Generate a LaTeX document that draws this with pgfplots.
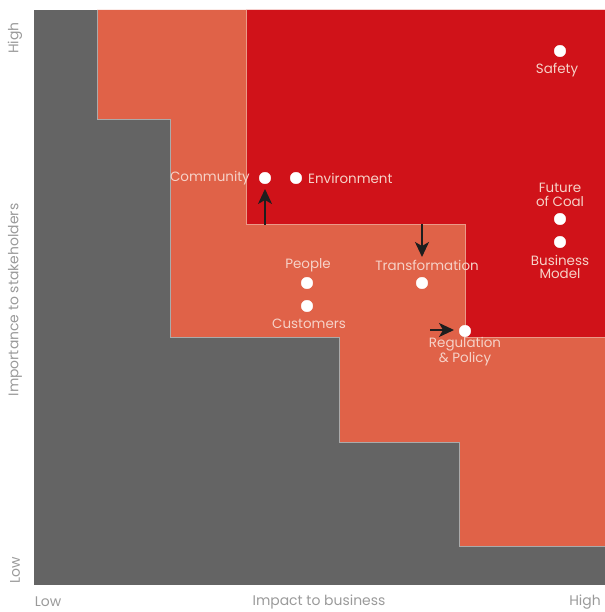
\documentclass[border=0pt]{standalone}
\usepackage{fontspec}
\setmainfont{Poppins}
\usepackage{pgfplots}
\pgfplotsset{compat=1.18}
\usetikzlibrary{arrows.meta}
\definecolor{bggray}{HTML}{646464}
\definecolor{midorange}{HTML}{E06248}
\definecolor{topred}{HTML}{D01219}
\definecolor{lbl}{HTML}{F6D2C8}
\definecolor{axtxt}{HTML}{9A9A9A}
\definecolor{arr}{HTML}{1E1E1E}
\begin{document}
\begin{tikzpicture}
\begin{axis}[
  at={(0,0)}, anchor=origin,
  scale only axis, width=571bp, height=575bp,
  xmin=0, xmax=571, ymin=0, ymax=575,
  axis lines=none, ticks=none, clip=false,
  axis background/.style={fill=bggray},
]
% orange zone
\addplot[fill=midorange, draw=none] coordinates {
 (63,575) (63,466) (136,466) (136,248) (305,248) (305,143) (425,143) (425,39) (571,39) (571,575)} -- cycle;
\addplot[draw=white!45!bggray, line width=0.4pt] coordinates {
 (63,575) (63,466) (136,466) (136,248) (305,248) (305,143) (425,143) (425,39) (571,39)};
% red zone
\addplot[fill=topred, draw=none] coordinates {
 (212,575) (212,361) (431,361) (431,248) (571,248) (571,575)} -- cycle;
\addplot[draw=white!35!midorange, line width=0.4pt] coordinates {
 (212,575) (212,361) (431,361) (431,248) (571,248)};
% arrows
\draw[arr, line width=1.8pt, -{Stealth[length=15bp,width=14bp,inset=4bp]}] (axis cs:231,360) -- (axis cs:231,396);
\draw[arr, line width=1.8pt, -{Stealth[length=15bp,width=14bp,inset=4bp]}] (axis cs:388,361) -- (axis cs:388,328);
\draw[arr, line width=1.8pt, -{Stealth[length=15bp,width=14bp,inset=4bp]}] (axis cs:396,255) -- (axis cs:420,255);
% dots
\addplot[only marks, mark=*, mark size=5.8pt, mark options={fill=white, draw=white}] coordinates {
 (526,534) (231,407) (262,407) (526,366) (526,343) (273,302) (273,279) (388,302) (431,254)};
% labels
\begin{scope}[every node/.style={text=lbl, font=\fontsize{13.5}{13.5}\selectfont, inner sep=0pt, align=center}]
\node at (axis cs:523,515) {Safety};
\node[anchor=east] at (axis cs:216,407) {Community};
\node[anchor=west] at (axis cs:274,407) {Environment};
\node at (axis cs:526,390) {Future\\of Coal};
\node at (axis cs:526,318) {Business\\Model};
\node at (axis cs:274,320) {People};
\node at (axis cs:275,261) {Customers};
\node at (axis cs:393,320) {Transformation};
\node at (axis cs:431,233) {Regulation\\\& Policy};
\end{scope}
\begin{scope}[every node/.style={text=axtxt, font=\fontsize{14}{14}\selectfont, inner sep=0pt}]
\node at (axis cs:14,-17) {Low};
\node at (axis cs:285,-17) {Impact to business};
\node at (axis cs:551,-17) {High};
\node[rotate=90] at (axis cs:-19,547) {High};
\node[rotate=90] at (axis cs:-19,285) {Importance to stakeholders};
\node[rotate=90] at (axis cs:-19,15) {Low};
\end{scope}
\coordinate (bl) at (axis cs:-34,-27);
\coordinate (tr) at (axis cs:571,585);
\end{axis}
\pgfresetboundingbox
\path[use as bounding box] (bl) rectangle (tr);
\end{tikzpicture}
\end{document}
